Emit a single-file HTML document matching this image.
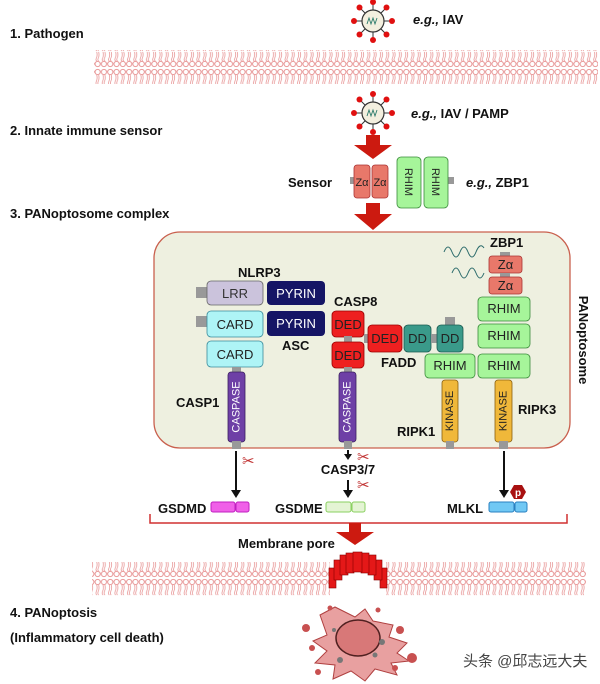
<!DOCTYPE html>
<html><head><meta charset="utf-8"><style>
html,body{margin:0;padding:0;background:#fff;}
svg{display:block;font-family:"Liberation Sans",Arial,sans-serif;}
.lb{font-weight:bold;font-size:13px;fill:#111;}
.bx{font-size:13px;}
</style></head><body>
<svg width="600" height="684" viewBox="0 0 600 684" xmlns="http://www.w3.org/2000/svg">
<defs>
<pattern id="mem" x="0" y="0" width="6.3" height="34" patternUnits="userSpaceOnUse">
<circle cx="3.15" cy="4" r="2.6" fill="#fff" stroke="#e89898" stroke-width="1"/>
<path d="M2.2 7 q1 3 -0.3 6 q-1 3 0.3 4 M4.1 7 q1 3 -0.3 6 q-1 3 0.3 4" fill="none" stroke="#e89898" stroke-width="0.8"/>
<path d="M2.2 18 q1 3 -0.3 6 q-1 2 0.3 3 M4.1 18 q1 3 -0.3 6 q-1 2 0.3 3" fill="none" stroke="#e89898" stroke-width="0.8"/>
<circle cx="3.15" cy="30" r="2.6" fill="#fff" stroke="#e89898" stroke-width="1"/>
</pattern>
<g id="virus">
<g stroke="#333" stroke-width="1">
<line x1="-19" y1="0" x2="19" y2="0"/><line x1="0" y1="-19" x2="0" y2="19"/>
<line x1="-13.5" y1="-13.5" x2="13.5" y2="13.5"/><line x1="-13.5" y1="13.5" x2="13.5" y2="-13.5"/>
</g>
<g fill="#e01010">
<circle cx="-19" cy="0" r="3"/><circle cx="19" cy="0" r="3"/><circle cx="0" cy="-19" r="3"/><circle cx="0" cy="19" r="3"/>
<circle cx="-13.5" cy="-13.5" r="3"/><circle cx="13.5" cy="13.5" r="3"/><circle cx="-13.5" cy="13.5" r="3"/><circle cx="13.5" cy="-13.5" r="3"/>
</g>
<circle r="11" fill="#f3efdf" stroke="#333" stroke-width="1.2"/>
<path d="M-6 3 l2 -6 l2 6 l2 -6 l2 6 l2 -6" fill="none" stroke="#2a7a6a" stroke-width="0.9"/>
</g>
</defs>

<text x="10" y="38" class="lb">1. Pathogen</text>
<text x="10" y="135" class="lb">2. Innate immune sensor</text>
<text x="10" y="218" class="lb">3. PANoptosome complex</text>
<text x="10" y="617" class="lb">4. PANoptosis</text>
<text x="10" y="642" class="lb">(Inflammatory cell death)</text>

<rect x="94" y="50" width="504" height="34" fill="url(#mem)"/>

<use href="#virus" x="373" y="21"/>
<text x="413" y="24" class="lb"><tspan font-style="italic">e.g.,</tspan> IAV</text>
<use href="#virus" x="373" y="113"/>
<text x="411" y="118" class="lb"><tspan font-style="italic">e.g.,</tspan> IAV / PAMP</text>

<path d="M366 135 h14 v10 h12 l-19 14 l-19 -14 h12 z" fill="#cc1a10"/>
<path d="M366 203 h14 v11 h12 l-19 16 l-19 -16 h12 z" fill="#cc1a10"/>

<text x="288" y="187" class="lb">Sensor</text>
<rect x="350" y="177" width="6" height="7" fill="#999"/>
<rect x="448" y="177" width="6" height="7" fill="#999"/>
<rect x="354" y="165" width="16" height="33" rx="3" fill="#e8786a" stroke="#a33" stroke-width="0.8"/>
<rect x="372" y="165" width="16" height="33" rx="3" fill="#e8786a" stroke="#a33" stroke-width="0.8"/>
<text x="362" y="186" font-size="11" text-anchor="middle" fill="#222">Zα</text>
<text x="380" y="186" font-size="11" text-anchor="middle" fill="#222">Zα</text>
<rect x="397" y="157" width="24" height="51" rx="4" fill="#a6f59a" stroke="#3a8a3a" stroke-width="0.8"/>
<rect x="424" y="157" width="24" height="51" rx="4" fill="#a6f59a" stroke="#3a8a3a" stroke-width="0.8"/>
<text transform="translate(405,182) rotate(90)" font-size="11" text-anchor="middle" fill="#222">RHIM</text>
<text transform="translate(432,182) rotate(90)" font-size="11" text-anchor="middle" fill="#222">RHIM</text>
<text x="466" y="187" class="lb"><tspan font-style="italic">e.g.,</tspan>  ZBP1</text>

<rect x="154" y="232" width="416" height="216" rx="26" fill="#eef0e0" stroke="#c9604e" stroke-width="1.3"/>
<text transform="translate(579,340) rotate(90)" class="lb" text-anchor="middle">PANoptosome</text>

<text x="238" y="277" class="lb">NLRP3</text>
<rect x="196" y="287" width="12" height="11" fill="#999"/>
<rect x="196" y="316" width="12" height="11" fill="#999"/>
<rect x="207" y="281" width="56" height="24" rx="4" fill="#cbc3dc" stroke="#666" stroke-width="0.8"/>
<text x="235" y="298" class="bx" text-anchor="middle" fill="#333">LRR</text>
<rect x="267" y="281" width="58" height="24" rx="4" fill="#151565"/>
<text x="296" y="298" class="bx" text-anchor="middle" fill="#fff">PYRIN</text>
<rect x="207" y="311" width="56" height="26" rx="4" fill="#aef4f6" stroke="#3a8a9a" stroke-width="0.8"/>
<text x="235" y="329" class="bx" text-anchor="middle" fill="#222">CARD</text>
<rect x="267" y="311" width="58" height="25" rx="4" fill="#151565"/>
<text x="296" y="328" class="bx" text-anchor="middle" fill="#fff">PYRIN</text>
<text x="282" y="350" class="lb">ASC</text>
<rect x="207" y="341" width="56" height="26" rx="4" fill="#aef4f6" stroke="#3a8a9a" stroke-width="0.8"/>
<text x="235" y="359" class="bx" text-anchor="middle" fill="#222">CARD</text>
<rect x="232" y="367" width="9" height="6" fill="#999"/>
<rect x="228" y="372" width="17" height="70" rx="3" fill="#6e40a6" stroke="#3b2060" stroke-width="0.8"/>
<text transform="translate(236.5,407) rotate(-90)" font-size="11" text-anchor="middle" dominant-baseline="central" fill="#fff">CASPASE</text>
<rect x="232" y="441" width="9" height="8" fill="#999"/>
<text x="176" y="407" class="lb">CASP1</text>

<text x="334" y="306" class="lb">CASP8</text>
<rect x="332" y="311" width="32" height="26" rx="4" fill="#ee2020" stroke="#900" stroke-width="0.8"/>
<text x="348" y="329" class="bx" text-anchor="middle" fill="#222">DED</text>
<rect x="344" y="336" width="8" height="7" fill="#999"/>
<rect x="332" y="342" width="32" height="26" rx="4" fill="#ee2020" stroke="#900" stroke-width="0.8"/>
<text x="348" y="360" class="bx" text-anchor="middle" fill="#222">DED</text>
<rect x="344" y="367" width="8" height="6" fill="#999"/>
<rect x="339" y="372" width="17" height="70" rx="3" fill="#6e40a6" stroke="#3b2060" stroke-width="0.8"/>
<text transform="translate(347.5,407) rotate(-90)" font-size="11" text-anchor="middle" dominant-baseline="central" fill="#fff">CASPASE</text>
<rect x="344" y="441" width="8" height="8" fill="#999"/>

<rect x="364" y="334" width="6" height="9" fill="#999"/>
<rect x="368" y="325" width="34" height="27" rx="4" fill="#ee2020" stroke="#900" stroke-width="0.8"/>
<text x="385" y="343" class="bx" text-anchor="middle" fill="#222">DED</text>
<rect x="404" y="325" width="27" height="27" rx="4" fill="#3a9a8a" stroke="#1a5a50" stroke-width="0.8"/>
<text x="417.5" y="343" class="bx" text-anchor="middle" fill="#222">DD</text>
<rect x="431" y="334" width="6" height="9" fill="#999"/>
<rect x="445" y="317" width="10" height="9" fill="#999"/>
<rect x="437" y="325" width="26" height="27" rx="4" fill="#3a9a8a" stroke="#1a5a50" stroke-width="0.8"/>
<text x="450" y="343" class="bx" text-anchor="middle" fill="#222">DD</text>
<text x="381" y="367" class="lb">FADD</text>

<rect x="425" y="354" width="50" height="24" rx="4" fill="#a6f59a" stroke="#3a8a3a" stroke-width="0.8"/>
<text x="450" y="370" class="bx" text-anchor="middle" fill="#222">RHIM</text>
<rect x="442" y="380" width="16" height="62" rx="3" fill="#f0b83a" stroke="#8a6010" stroke-width="0.8"/>
<text transform="translate(450,411) rotate(-90)" font-size="11" text-anchor="middle" dominant-baseline="central" fill="#222">KINASE</text>
<rect x="446" y="441" width="8" height="8" fill="#999"/>
<text x="397" y="436" class="lb">RIPK1</text>

<text x="490" y="247" class="lb">ZBP1</text>
<path d="M444 252 q4 -10 8 0 t8 0 t8 0 t8 0 t8 -4" fill="none" stroke="#2a6a6a" stroke-width="1"/>
<path d="M452 273 q4 -10 8 0 t8 0 t8 0 t8 0" fill="none" stroke="#2a6a6a" stroke-width="1"/>
<rect x="500" y="252" width="10" height="5" fill="#999"/>
<rect x="489" y="256" width="33" height="17" rx="3" fill="#e8786a" stroke="#a33" stroke-width="0.8"/>
<text x="505.5" y="269" class="bx" text-anchor="middle" fill="#222">Zα</text>
<rect x="500" y="273" width="10" height="4" fill="#999"/>
<rect x="489" y="277" width="33" height="17" rx="3" fill="#e8786a" stroke="#a33" stroke-width="0.8"/>
<text x="505.5" y="290" class="bx" text-anchor="middle" fill="#222">Zα</text>
<rect x="478" y="297" width="52" height="24" rx="4" fill="#a6f59a" stroke="#3a8a3a" stroke-width="0.8"/>
<text x="504" y="313" class="bx" text-anchor="middle" fill="#222">RHIM</text>
<rect x="478" y="324" width="52" height="24" rx="4" fill="#a6f59a" stroke="#3a8a3a" stroke-width="0.8"/>
<text x="504" y="340" class="bx" text-anchor="middle" fill="#222">RHIM</text>
<rect x="478" y="354" width="52" height="24" rx="4" fill="#a6f59a" stroke="#3a8a3a" stroke-width="0.8"/>
<text x="504" y="370" class="bx" text-anchor="middle" fill="#222">RHIM</text>
<rect x="495" y="380" width="17" height="62" rx="3" fill="#f0b83a" stroke="#8a6010" stroke-width="0.8"/>
<text transform="translate(503.5,411) rotate(-90)" font-size="11" text-anchor="middle" dominant-baseline="central" fill="#222">KINASE</text>
<rect x="499" y="441" width="9" height="8" fill="#999"/>
<text x="518" y="414" class="lb">RIPK3</text>

<g stroke="#111" stroke-width="2" fill="none">
<line x1="236" y1="451" x2="236" y2="491"/>
<line x1="348" y1="450" x2="348" y2="454"/>
<line x1="348" y1="480" x2="348" y2="491"/>
<line x1="504" y1="451" x2="504" y2="491"/>
</g>
<g fill="#111">
<path d="M231 490 h10 l-5 8 z"/>
<path d="M344 454 h8 l-4 6 z"/>
<path d="M343 490 h10 l-5 8 z"/>
<path d="M499 490 h10 l-5 8 z"/>
</g>
<g fill="#c03030" font-size="15">
<text x="242" y="466">✂</text>
<text x="357" y="462">✂</text>
<text x="357" y="490">✂</text>
</g>
<text x="348" y="474" class="lb" text-anchor="middle">CASP3/7</text>

<text x="158" y="513" class="lb">GSDMD</text>
<rect x="211" y="502" width="24" height="10" rx="2" fill="#f060e8" stroke="#c020c0" stroke-width="1"/>
<rect x="236" y="502" width="13" height="10" rx="2" fill="#f060e8" stroke="#c020c0" stroke-width="1"/>
<text x="275" y="513" class="lb">GSDME</text>
<rect x="326" y="502" width="25" height="10" rx="2" fill="#e4f4d4" stroke="#8ad060" stroke-width="1"/>
<rect x="352" y="502" width="13" height="10" rx="2" fill="#e4f4d4" stroke="#8ad060" stroke-width="1"/>
<text x="447" y="513" class="lb">MLKL</text>
<rect x="489" y="502" width="25" height="10" rx="2" fill="#70c8f4" stroke="#2a80c0" stroke-width="1"/>
<rect x="515" y="502" width="12" height="10" rx="2" fill="#70c8f4" stroke="#2a80c0" stroke-width="1"/>
<path d="M514 485 l8 0 l4 7 l-4 7 l-8 0 l-4 -7 z" fill="#a81010"/>
<text x="518" y="496" font-size="10" font-weight="bold" fill="#fff" text-anchor="middle">p</text>

<path d="M150 514 V523 H567 V514" fill="none" stroke="#d03030" stroke-width="1.5"/>
<path d="M349 523 h12 v9 h13 l-19 13 l-19 -13 h13 z" fill="#cc1a10"/>
<text x="238" y="548" class="lb">Membrane pore</text>

<rect x="92" y="562" width="494" height="34" fill="url(#mem)"/>
<rect x="330" y="560" width="56" height="36" fill="#fff"/>
<g fill="#e41818" stroke="#800" stroke-width="0.6">
<rect x="329" y="568" width="7" height="20"/>
<rect x="380" y="568" width="7" height="20"/>
<rect x="334" y="560" width="8" height="20"/>
<rect x="374" y="560" width="8" height="20"/>
<rect x="340" y="555" width="8" height="20"/>
<rect x="368" y="555" width="8" height="20"/>
<rect x="346" y="553" width="8" height="20"/>
<rect x="361" y="553" width="8" height="20"/>
<rect x="353" y="552" width="9" height="20"/>
</g>

<g>
<path d="M320 615 l15 -8 l20 10 l10 -8 l8 12 l20 4 l-4 12 l18 6 l-10 10 l12 8 l-18 2 l6 12 l-22 -6 l-10 12 l-14 -10 l-18 8 l2 -14 l-20 -2 l12 -12 l-14 -10 l14 -6 z" fill="#e8a0a0" stroke="#b04040" stroke-width="1"/>
<ellipse cx="358" cy="638" rx="22" ry="18" fill="#d87878" stroke="#502020" stroke-width="1.5"/>
<g fill="#c85050">
<circle cx="306" cy="628" r="4"/><circle cx="312" cy="648" r="3"/><circle cx="400" cy="630" r="4"/><circle cx="412" cy="658" r="5"/><circle cx="395" cy="668" r="3"/><circle cx="318" cy="672" r="3"/><circle cx="330" cy="608" r="2.5"/><circle cx="378" cy="610" r="2.5"/>
</g>
<g fill="#777"><circle cx="382" cy="642" r="3"/><circle cx="340" cy="660" r="3"/><circle cx="375" cy="655" r="2.5"/><circle cx="334" cy="630" r="2"/></g>
</g>

<text x="463" y="666" font-family="'Liberation Sans','Noto Sans CJK SC',sans-serif" font-size="15" fill="#444">头条 @邱志远大夫</text>
</svg>
</body></html>
